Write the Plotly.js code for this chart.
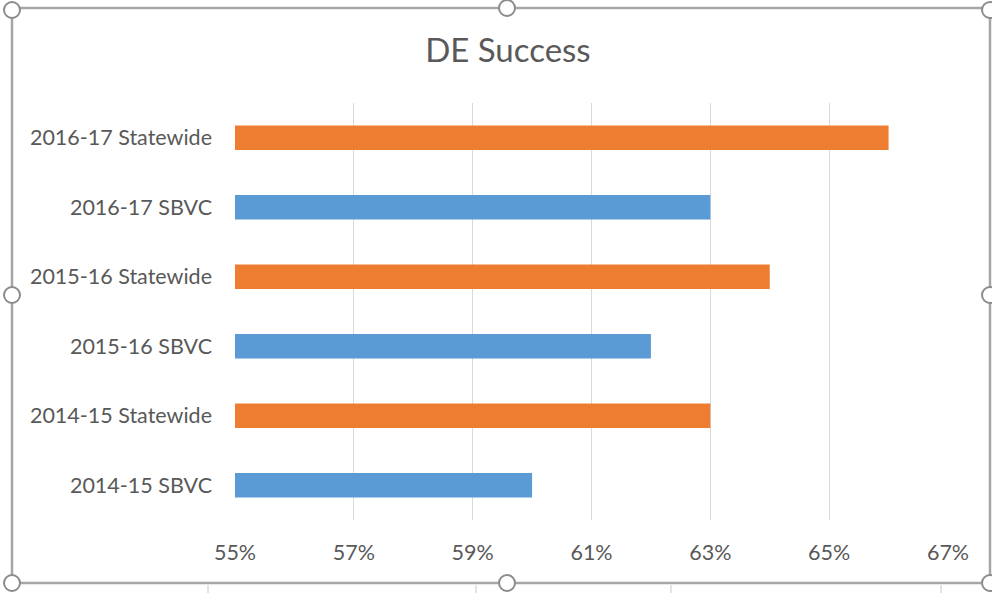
<!DOCTYPE html>
<html>
<head>
<meta charset="utf-8">
<script src="https://cdn.plot.ly/plotly-3.0.1.min.js"></script>
<style>html,body{margin:0;padding:0;background:#fff;}#chart{width:992px;height:593px;}</style>
</head>
<body>
<div id="chart"></div>
<script>
const categories = ["2014-15 SBVC","2014-15 Statewide","2015-16 SBVC","2015-16 Statewide","2016-17 SBVC","2016-17 Statewide"];
const values = [0.60, 0.63, 0.62, 0.64, 0.63, 0.66];
const barColors = ["#5B9BD5","#ED7D31","#5B9BD5","#ED7D31","#5B9BD5","#ED7D31"];
const tickVals = [0.55, 0.57, 0.59, 0.61, 0.63, 0.65, 0.67];
const tickText = ["55%","57%","59%","61%","63%","65%","67%"];

// pixel helpers for frame decoration (plot area: x 235..948, y 103..520)
const L = 235, R = 948, T = 103, B = 520;
const px = x => (x - L) / (R - L);
const py = y => (B - y) / (B - T);
const frame = "#A6A6A6";
const shapes = [
  {type:"rect", xref:"paper", yref:"paper", x0:px(12), x1:px(990), y0:py(8), y1:py(583), line:{color:frame, width:2.5}, fillcolor:"rgba(0,0,0,0)", layer:"above"}
];
[208, 476, 671, 941].forEach(tx => {
  shapes.push({type:"line", xref:"paper", yref:"paper", x0:px(tx), x1:px(tx), y0:py(585), y1:py(593), line:{color:"#C8C8C8", width:1}, layer:"above"});
});
const handles = [[507,8],[12,295],[990,295],[12,583],[507,583],[12,10],[990,10],[990,583]];
handles.forEach(([hx,hy]) => {
  const r = 8;
  shapes.push({type:"circle", xref:"paper", yref:"paper", x0:px(hx-r), x1:px(hx+r), y0:py(hy+r), y1:py(hy-r), line:{color:"#8C8C8C", width:2}, fillcolor:"#fff", layer:"above"});
});

const data = [{
  type:"bar", orientation:"h",
  y: categories, x: values,
  base: 0,
  marker:{color: barColors},
  width: 0.35,
  hoverinfo:"none"
}];

const fam = "Lato, 'Open Sans', sans-serif";
const layout = {
  width:992, height:593,
  margin:{l:L, r:992-R, t:T, b:593-B, pad:0},
  paper_bgcolor:"#fff", plot_bgcolor:"#fff",
  showlegend:false,
  font:{family:fam, color:"#595959", size:21},
  title:{text:"DE Success", x:0.512, xanchor:"center", y:0.915, yanchor:"middle", font:{size:33, color:"#595959", family:fam}},
  xaxis:{range:[0.55,0.67], tickvals:tickVals, ticktext:tickText, showgrid:true, gridcolor:"#D9D9D9", gridwidth:1.3, zeroline:false, showline:false, ticks:"", ticklabelstandoff:17, tickfont:{size:21.5}, fixedrange:true},
  yaxis:{type:"category", categoryorder:"array", categoryarray:categories, showgrid:false, zeroline:false, showline:false, ticks:"", ticklabelstandoff:22, tickfont:{size:21.5}, fixedrange:true},
  shapes: shapes
};

Plotly.newPlot("chart", data, layout, {staticPlot:true, displayModeBar:false});
</script>
</body>
</html>
